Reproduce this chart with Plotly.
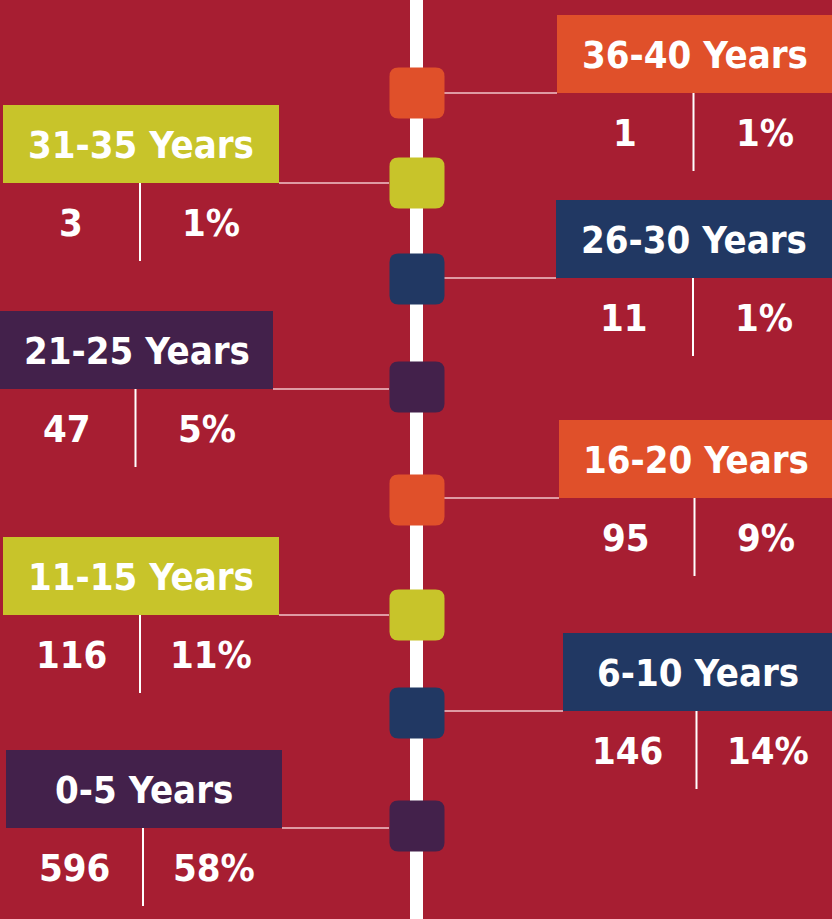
import plotly.graph_objects as go

# ---- data ----
categories = ["36-40 Years", "31-35 Years", "26-30 Years", "21-25 Years",
              "16-20 Years", "11-15 Years", "6-10 Years", "0-5 Years"]
counts = [1, 3, 11, 47, 95, 116, 146, 596]
percents = ["1%", "1%", "1%", "5%", "9%", "11%", "14%", "58%"]

# ---- layout constants (pixel space) ----
W, H = 832, 919
BG = "#A71E32"
colors = ["#E0502A", "#C8C42A", "#213863", "#43214B",
          "#E0502A", "#C8C42A", "#213863", "#43214B"]
sides = ["right", "left", "right", "left", "right", "left", "right", "left"]
node_y = [93, 183, 279, 387, 500, 615, 713, 826]
box_bottom = [93, 183, 278, 389, 498, 615, 711, 828]
box_x = [(557, 840), (3, 279), (556, 840), (0, 273),
         (559, 840), (3, 279), (563, 840), (6, 282)]
BOX_H = 78
SPINE_X = 416.5
SQ_W, SQ_H, SQ_R = 55, 51, 9
FONT = "DejaVu Sans Condensed, Liberation Sans Narrow, sans-serif"
FS = 38

fig = go.Figure()
shapes = []
annotations = []

# spine
shapes.append(dict(type="rect", xref="x", yref="y", x0=SPINE_X - 6.5, x1=SPINE_X + 6.5,
                   y0=-5, y1=H + 5, fillcolor="white", line=dict(width=0), layer="below"))


def rounded_rect(cx, cy, w, h, r):
    x0, x1 = cx - w / 2, cx + w / 2
    y0, y1 = cy - h / 2, cy + h / 2
    return (f"M {x0 + r},{y0} L {x1 - r},{y0} Q {x1},{y0} {x1},{y0 + r} "
            f"L {x1},{y1 - r} Q {x1},{y1} {x1 - r},{y1} L {x0 + r},{y1} "
            f"Q {x0},{y1} {x0},{y1 - r} L {x0},{y0 + r} Q {x0},{y0} {x0 + r},{y0} Z")


for i, cat in enumerate(categories):
    c = colors[i]
    bx0, bx1 = box_x[i]
    bb = box_bottom[i]
    bt = bb - BOX_H
    # connector line
    if sides[i] == "right":
        lx0, lx1 = SPINE_X + SQ_W / 2, bx0
    else:
        lx0, lx1 = bx1, SPINE_X - SQ_W / 2
    shapes.append(dict(type="line", xref="x", yref="y", x0=lx0, x1=lx1, y0=bb, y1=bb,
                       line=dict(color="rgba(255,225,228,0.85)", width=1.6)))
    # label box
    shapes.append(dict(type="rect", xref="x", yref="y", x0=bx0, x1=bx1, y0=bt, y1=bb,
                       fillcolor=c, line=dict(width=0)))
    # node square
    shapes.append(dict(type="path", xref="x", yref="y",
                       path=rounded_rect(SPINE_X + 0.5, node_y[i], SQ_W, SQ_H, SQ_R),
                       fillcolor=c, line=dict(width=0)))
    # divider
    vis_x1 = min(bx1, W)
    divx = (bx0 + vis_x1) / 2 - 1
    shapes.append(dict(type="line", xref="x", yref="y", x0=divx, x1=divx, y0=bb, y1=bb + 78,
                       line=dict(color="white", width=2)))
    # title text
    annotations.append(dict(x=(bx0 + vis_x1) / 2, y=(bt + bb) / 2 + 1, xref="x", yref="y",
                            text=f"<b>{cat}</b>", showarrow=False,
                            font=dict(family=FONT, size=FS, color="white"),
                            xanchor="center", yanchor="middle"))
    # values
    annotations.append(dict(x=divx - 69, y=bb + 40, xref="x", yref="y",
                            text=f"<b>{counts[i]}</b>", showarrow=False,
                            font=dict(family=FONT, size=FS, color="white"),
                            xanchor="center", yanchor="middle"))
    annotations.append(dict(x=divx + 71, y=bb + 40, xref="x", yref="y",
                            text=f"<b>{percents[i]}</b>", showarrow=False,
                            font=dict(family=FONT, size=FS, color="white"),
                            xanchor="center", yanchor="middle"))

# invisible trace to anchor axes
fig.add_trace(go.Scatter(x=[SPINE_X] * len(node_y), y=node_y, mode="markers",
                         marker=dict(size=1, color="rgba(0,0,0,0)"),
                         hovertext=[f"{c}: {n} ({p})" for c, n, p in zip(categories, counts, percents)],
                         hoverinfo="text", showlegend=False))

fig.update_layout(
    width=W, height=H,
    margin=dict(l=0, r=0, t=0, b=0),
    paper_bgcolor=BG, plot_bgcolor=BG,
    xaxis=dict(range=[0, W], visible=False, fixedrange=True),
    yaxis=dict(range=[H, 0], visible=False, fixedrange=True),
    shapes=shapes, annotations=annotations,
    showlegend=False,
)

fig.write_html("out.html", config={"displayModeBar": False},
               post_script="document.body.style.margin='0';document.body.style.overflow='hidden';")
